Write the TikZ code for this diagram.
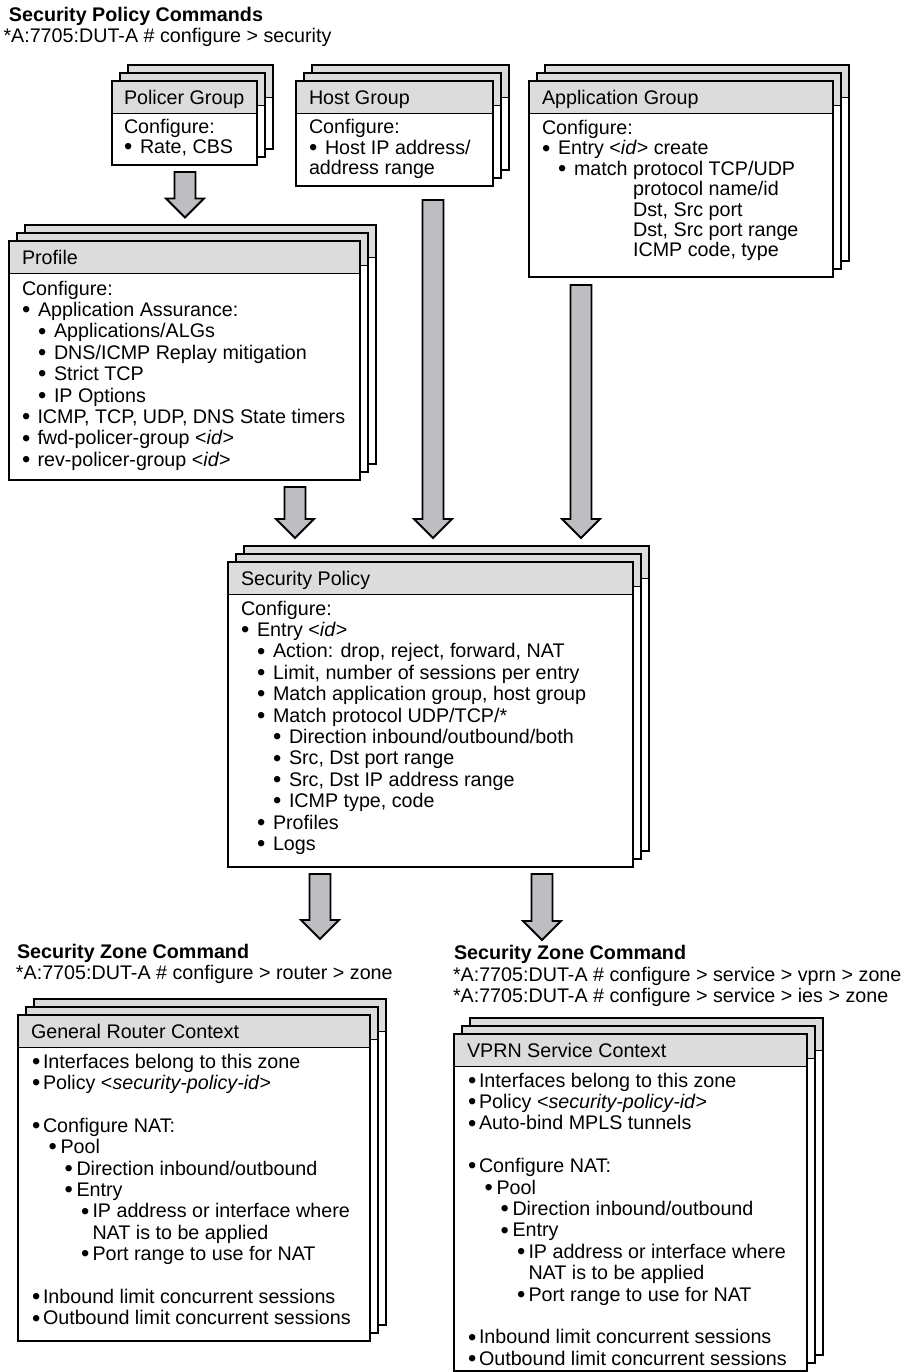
\documentclass[tikz,border=0pt]{standalone}
\usepackage{fontspec}
\setmainfont{Liberation Sans}
\usetikzlibrary{calc}

\definecolor{hdrgray}{RGB}{220,220,220}
\definecolor{arrgray}{RGB}{190,190,194}

\tikzset{
  card/.style={draw=black, line width=1.8pt, fill=white},
  cardhead/.style={draw=black, line width=1.8pt, fill=hdrgray},
  txt/.style={anchor=base west, inner sep=0pt, outer sep=0pt,
              text height=14pt, text depth=4pt, font=\fontsize{19.7}{24}\selectfont},
  ttl/.style={txt, font=\fontsize{19.7}{24}\selectfont\bfseries},
  fatarrow/.style={draw=black, line width=1.8pt, fill=arrgray, line join=miter},
}

% three stacked cards: left, top, right, bottom of the front card
\newcommand\cardstack[4]{%
  \foreach \k in {2,1,0}{%
    \draw[card] ({#1+8*\k},{#2-8*\k}) rectangle ({#3+8*\k},{#4-8*\k});
    \draw[cardhead] ({#1+8*\k},{#2-8*\k}) rectangle ({#3+8*\k},{#2-8*\k+32.5});
  }%
}
% hollow block arrow from a start coordinate down to a tip coordinate
\newcommand\blockarrow[2]{%
  \draw[fatarrow] let \p1=(#1), \p2=(#2) in
    (\x1-10.5pt,\y1) -- (\x1+10.5pt,\y1) -- (\x1+10.5pt,\y2+19pt) -- (\x1+19pt,\y2+19pt)
    -- (\x1,\y2) -- (\x1-19pt,\y2+19pt) -- (\x1-10.5pt,\y2+19pt) -- cycle;
}
% text lines placed on their baselines
\newcommand\bigdot{\raisebox{-1.2pt}{\scalebox{1.2}{\textbullet}}}
\newcommand\plainline[4]{\node[txt] (#1) at (#2,#3) {#4};}
\newcommand\bulletline[5]{\node[txt] (#1) at (#2,#3) {\makebox[#4pt][l]{\bigdot}#5};}

\begin{document}
\begin{tikzpicture}[x=1pt,y=-1pt]
\useasboundingbox (0,0) rectangle (905,1372);

% ---------- headings ----------
\node[ttl] (hd-top) at (9,21.5) {Security Policy Commands};
\node[txt] (cmd-top) at (3.5,43) {*A:7705:DUT-A \# configure > security};

\node[ttl] (hd-rtr) at (17,958.5) {Security Zone Command};
\node[txt] (cmd-rtr) at (16,979) {*A:7705:DUT-A \# configure > router > zone};

\node[ttl] (hd-svc) at (454,959) {Security Zone Command};
\node[txt] (cmd-vprn) at (453,981) {*A:7705:DUT-A \# configure > service > vprn > zone};
\node[txt] (cmd-ies) at (453,1002.5) {*A:7705:DUT-A \# configure > service > ies > zone};

% ---------- Policer Group ----------
\cardstack{112}{81}{257}{165}
\plainline{pg-t}{124}{104.5}{Policer Group}
\plainline{pg-1}{124}{134}{Configure:}
\bulletline{pg-2}{124}{153.5}{16}{Rate, CBS}

% ---------- Host Group ----------
\cardstack{296}{81}{493}{186}
\plainline{hg-t}{309}{104.5}{Host Group}
\plainline{hg-1}{309}{134}{Configure:}
\bulletline{hg-2}{309}{154.5}{16}{Host IP address/}
\plainline{hg-3}{309}{175}{address range}

% ---------- Application Group ----------
\cardstack{529}{81}{833}{277}
\plainline{ag-t}{542}{104.5}{Application Group}
\plainline{ag-1}{542}{134.5}{Configure:}
\bulletline{ag-2}{542}{154.9}{16}{Entry <\textit{id}> create}
\bulletline{ag-3}{558}{175.3}{16}{match protocol TCP/UDP}
\plainline{ag-4}{574}{195.7}{\hphantom{match\ }protocol name/id}
\plainline{ag-5}{574}{216.1}{\hphantom{match\ }Dst, Src port}
\plainline{ag-6}{574}{236.5}{\hphantom{match\ }Dst, Src port range}
\plainline{ag-7}{574}{256.9}{\hphantom{match\ }ICMP code, type}

% ---------- Profile ----------
\cardstack{9}{241}{360}{480}
\plainline{pf-t}{22}{264}{Profile}
\plainline{pf-1}{22}{295}{Configure:}
\bulletline{pf-2}{22}{316.4}{16}{Application Assurance:}
\bulletline{pf-3}{38}{337.8}{16}{Applications/ALGs}
\bulletline{pf-4}{38}{359.2}{16}{DNS/ICMP Replay mitigation}
\bulletline{pf-5}{38}{380.6}{16}{Strict TCP}
\bulletline{pf-6}{38}{402}{16}{IP Options}
\bulletline{pf-7}{22}{423.4}{15.5}{ICMP, TCP, UDP, DNS State timers}
\bulletline{pf-8}{22}{444.8}{15.5}{fwd-policer-group <\textit{id}>}
\bulletline{pf-9}{22}{466.2}{15.5}{rev-policer-group <\textit{id}>}

% ---------- Security Policy ----------
\cardstack{228}{562}{633}{867}
\plainline{sp-t}{241}{585}{Security Policy}
\plainline{sp-1}{241}{615}{Configure:}
\bulletline{sp-2}{241}{636.4}{16}{Entry <\textit{id}>}
\bulletline{sp-3}{257}{657.8}{16}{Action: drop, reject, forward, NAT}
\bulletline{sp-4}{257}{679.2}{16}{Limit, number of sessions per entry}
\bulletline{sp-5}{257}{700.6}{16}{Match application group, host group}
\bulletline{sp-6}{257}{722}{16}{Match protocol UDP/TCP/*}
\bulletline{sp-7}{273}{743.4}{16}{Direction inbound/outbound/both}
\bulletline{sp-8}{273}{764.8}{16}{Src, Dst port range}
\bulletline{sp-9}{273}{786.2}{16}{Src, Dst IP address range}
\bulletline{sp-10}{273}{807.6}{16}{ICMP type, code}
\bulletline{sp-11}{257}{829}{16}{Profiles}
\bulletline{sp-12}{257}{850.4}{16}{Logs}

% ---------- General Router Context ----------
\cardstack{18}{1015}{370}{1341}
\plainline{gr-t}{31}{1038}{General Router Context}
\bulletline{gr-1}{32}{1068}{11}{Interfaces belong to this zone}
\bulletline{gr-2}{32}{1089.4}{11}{Policy <\textit{security-policy-id}>}
\bulletline{gr-3}{32}{1132.2}{11}{Configure NAT:}
\bulletline{gr-4}{48.5}{1153.6}{12}{Pool}
\bulletline{gr-5}{64.5}{1175}{12}{Direction inbound/outbound}
\bulletline{gr-6}{64.5}{1196.4}{12}{Entry}
\bulletline{gr-7}{81}{1217.8}{11.5}{IP address or interface where}
\plainline{gr-8}{92.5}{1239.2}{NAT is to be applied}
\bulletline{gr-9}{81}{1260.6}{11.5}{Port range to use for NAT}
\bulletline{gr-10}{32}{1303.4}{11}{Inbound limit concurrent sessions}
\bulletline{gr-11}{32}{1324.8}{11}{Outbound limit concurrent sessions}

% ---------- VPRN Service Context ----------
\cardstack{454}{1034}{807}{1371}
\plainline{vp-t}{467}{1057}{VPRN Service Context}
\bulletline{vp-1}{468}{1087}{11}{Interfaces belong to this zone}
\bulletline{vp-2}{468}{1108.4}{11}{Policy <\textit{security-policy-id}>}
\bulletline{vp-3}{468}{1129.8}{11}{Auto-bind MPLS tunnels}
\bulletline{vp-4}{468}{1172.6}{11}{Configure NAT:}
\bulletline{vp-5}{484.5}{1194}{12}{Pool}
\bulletline{vp-6}{500.5}{1215.4}{12}{Direction inbound/outbound}
\bulletline{vp-7}{500.5}{1236.8}{12}{Entry}
\bulletline{vp-8}{517}{1258.2}{11.5}{IP address or interface where}
\plainline{vp-9}{528.5}{1279.6}{NAT is to be applied}
\bulletline{vp-10}{517}{1301}{11.5}{Port range to use for NAT}
\bulletline{vp-11}{468}{1343.8}{11}{Inbound limit concurrent sessions}
\bulletline{vp-12}{468}{1365.2}{11}{Outbound limit concurrent sessions}

% ---------- block arrows ----------
\coordinate (pg-out) at (185,172);  \coordinate (pf-in) at (185,217.5);
\coordinate (pf-out) at (295,487);  \coordinate (sp-in1) at (295,538);
\coordinate (hg-out) at (433,200);  \coordinate (sp-in2) at (433,538);
\coordinate (ag-out) at (581,285);  \coordinate (sp-in3) at (581,538);
\coordinate (sp-out1) at (320,874); \coordinate (gr-in) at (320,939);
\coordinate (sp-out2) at (542,874); \coordinate (vp-in) at (542,940);
\blockarrow{pg-out}{pf-in}
\blockarrow{pf-out}{sp-in1}
\blockarrow{hg-out}{sp-in2}
\blockarrow{ag-out}{sp-in3}
\blockarrow{sp-out1}{gr-in}
\blockarrow{sp-out2}{vp-in}
\end{tikzpicture}
\end{document}
